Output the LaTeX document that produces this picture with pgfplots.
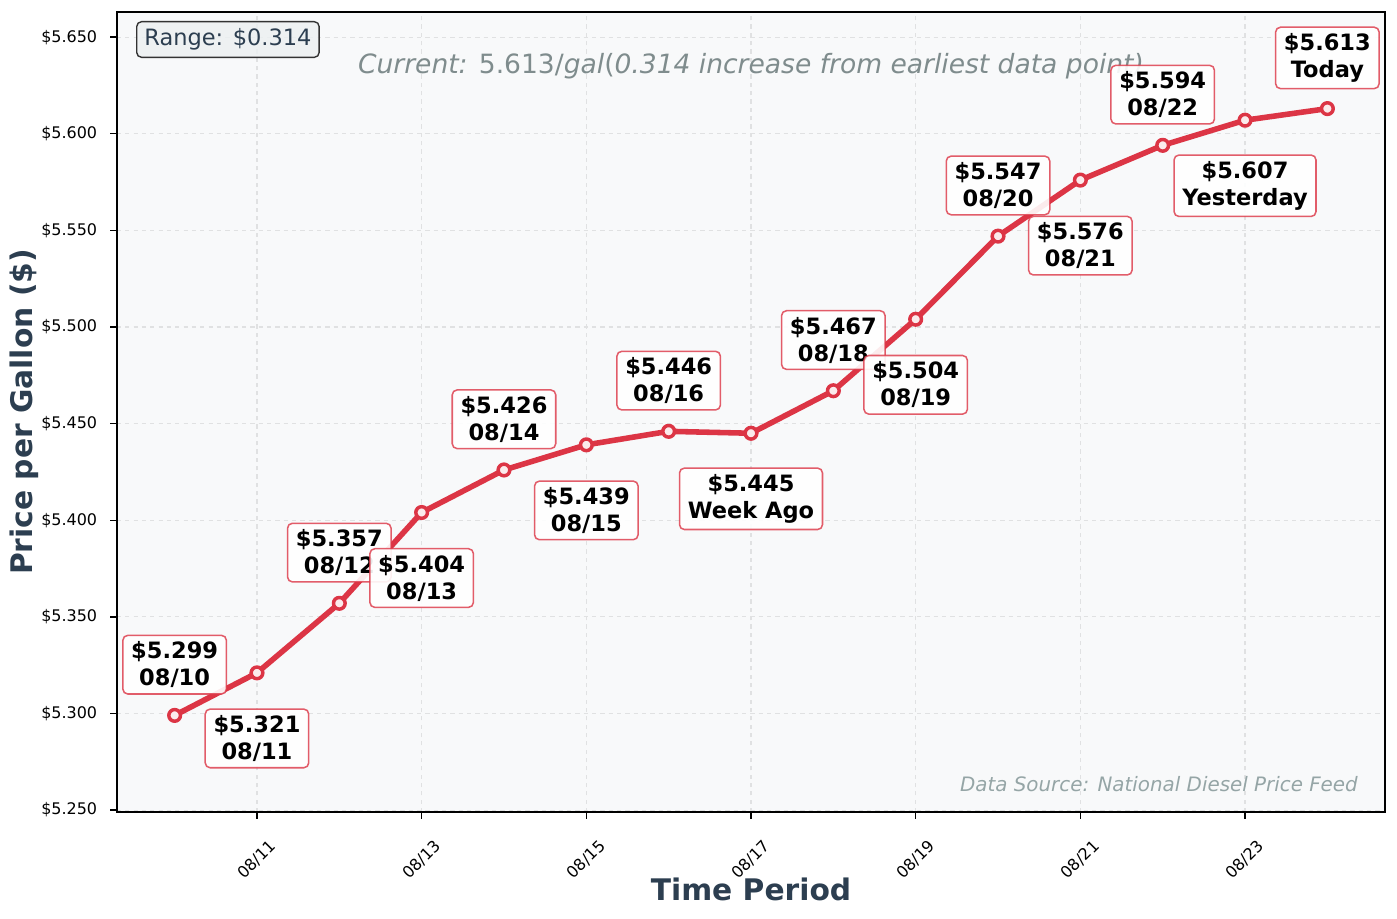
\documentclass[border=0pt]{standalone}
\usepackage{fontspec}
\setmainfont{DejaVu Sans}
\usepackage{pgfplots}
\usepackage{pgfplotstable}
\pgfplotsset{compat=1.18}

\definecolor{crimson}{HTML}{DC3545}
\definecolor{slate}{HTML}{2C3E50}
\definecolor{bggray}{HTML}{F8F9FA}
\definecolor{gridgray}{HTML}{E0E1E2}
\definecolor{curgray}{HTML}{7F8C8D}
\definecolor{srcgray}{HTML}{95A5A6}
\definecolor{rangefill}{HTML}{ECF0F1}

% daily diesel price, day 0 = 08/10
\pgfplotstableread[col sep=comma]{
day,price,label
0,5.299,08/10
1,5.321,08/11
2,5.357,08/12
3,5.404,08/13
4,5.426,08/14
5,5.439,08/15
6,5.446,08/16
7,5.445,Week Ago
8,5.467,08/18
9,5.504,08/19
10,5.547,08/20
11,5.576,08/21
12,5.594,08/22
13,5.607,Yesterday
14,5.613,Today
}\prices

\begin{document}
\begin{tikzpicture}
\begin{axis}[
    width=912.96pt, height=576pt, scale only axis,
    xmin=-0.7, xmax=14.7,
    ymin=5.249, ymax=5.663,
    xtick={1,3,5,7,9,11,13},
    xticklabels={08/11,08/13,08/15,08/17,08/19,08/21,08/23},
    ytick={5.25,5.3,5.35,5.4,5.45,5.5,5.55,5.6,5.65},
    yticklabel={\textdollar\pgfmathprintnumber[fixed,fixed zerofill,precision=3,assume math mode=true]{\tick}},
    tick pos=left, tick align=outside, major tick length=4.7pt,
    tick style={black, line width=1pt},
    axis line style={black, line width=1pt},
    axis background/.style={fill=bggray},
    grid=major, grid style={gridgray, dashed, line width=0.8pt},
    ticklabel style={font=\fontsize{11.5}{13}\selectfont},
    yticklabel style={inner sep=0pt, xshift=-9.4pt},
    xticklabel style={inner sep=0pt, yshift=-29.5pt, rotate=45, anchor=center},
    xlabel={Time Period},
    ylabel={Price per Gallon (\$)},
    label style={font=\fontsize{21.4}{25}\selectfont\bfseries, text=slate},
    xlabel style={at={(rel axis cs:0.5,-0.0965)}, anchor=center},
    ylabel style={at={(rel axis cs:-0.0733,0.5)}, anchor=center},
    clip=false,
]
\addplot[crimson, line width=4pt, line join=round,
    mark=*, mark size=4.2pt,
    mark options={fill=crimson!10!white, draw=crimson, line width=2.5pt}]
    table[x=day, y=price] {\prices};

\addplot[draw=none, mark=none, point meta=explicit symbolic,
    visualization depends on={y \as \price},
    visualization depends on={x \as \dayno},
    nodes near coords={\textdollar\pgfmathprintnumber[fixed,fixed zerofill,precision=3,assume math mode=true]{\price}\\\pgfplotspointmeta},
    nodes near coords style={anchor=center, align=center,
        yshift={isodd(\dayno) ? -47.2 : 36.5},
        font=\fontsize{16.2}{19.4}\selectfont\bfseries, text=black,
        draw=crimson, draw opacity=0.8, line width=1.1pt,
        fill=white, fill opacity=0.9, text opacity=1,
        rounded corners=3.5pt, inner xsep=6pt, inner ysep=4.5pt}]
    table[x=day, y=price, meta=label] {\prices};

\node[draw=black!80, line width=1pt, fill=rangefill, fill opacity=0.8, text opacity=1,
    rounded corners=3.5pt, inner xsep=5.5pt, inner ysep=5pt,
    font=\fontsize{16.2}{19}\selectfont, text=slate]
    at (rel axis cs:0.0875,0.9656) {Range: \$0.314};
\node[anchor=base, font=\fontsize{19.1}{23}\selectfont\itshape, text=curgray]
    at (rel axis cs:0.5,0.9225) {Current: {\upshape 5.613/}gal{\upshape (}0.314 increase from earliest data point)};
\node[anchor=base east, inner sep=0pt, font=\fontsize{14.3}{17}\selectfont\itshape, text=srcgray]
    at (rel axis cs:0.9787,0.0254) {Data Source: National Diesel Price Feed};
\end{axis}
\pgfresetboundingbox
\path ([shift={(-84.24pt,-76.32pt)}]current axis.south west)
    rectangle ([shift={(8.64pt,8.64pt)}]current axis.north east);
\end{tikzpicture}
\end{document}
